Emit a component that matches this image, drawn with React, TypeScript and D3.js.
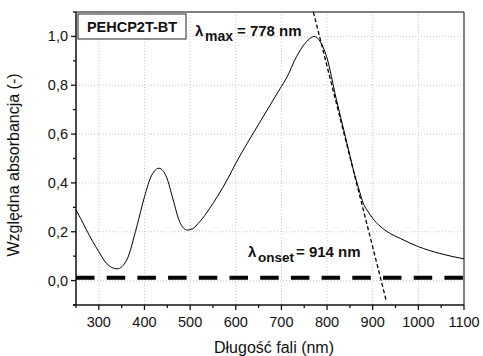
import React from "react";
import * as d3 from "d3";

const wavelength = [250, 260, 273, 300, 317, 340, 361, 383, 400, 416, 432, 448, 463, 477, 494, 505, 521, 543, 560, 583, 600, 650, 700, 711, 733, 752, 765, 772, 785, 799, 820, 840, 861, 872, 879, 890, 900, 916, 938, 960, 1000, 1047, 1100];
const absorbance = [0.289, 0.255, 0.207, 0.118, 0.07, 0.048, 0.084, 0.22, 0.343, 0.432, 0.46, 0.425, 0.33, 0.241, 0.207, 0.212, 0.241, 0.296, 0.345, 0.419, 0.48, 0.64, 0.795, 0.829, 0.917, 0.972, 0.995, 1.0, 0.979, 0.917, 0.745, 0.59, 0.43, 0.36, 0.318, 0.282, 0.255, 0.223, 0.193, 0.173, 0.139, 0.111, 0.089];

const tangentX = [770, 930];
const tangentY = [1.1, -0.085];

const baselineX = [250, 1100];
const baselineY = [0.012, 0.012];

const xTicks = [300, 400, 500, 600, 700, 800, 900, 1000, 1100];
const xMinorTicks = [250, 350, 450, 550, 650, 750, 850, 950, 1050];
const yTicks = [0.0, 0.2, 0.4, 0.6, 0.8, 1.0];
const yMinorTicks = [-0.1, 0.1, 0.3, 0.5, 0.7, 0.9, 1.1];

const sampleName = "PEHCP2T-BT";
const lambdaMax = "778";
const lambdaOnset = "914";
const xTitle = "Długość fali (nm)";
const yTitle = "Względna absorbancja (-)";

const FONT = "'Liberation Sans', Arial, Helvetica, sans-serif";

export default function App() {
  const W = 483, H = 356;
  const left = 76, right = 464, top = 12, bottom = 305;
  const x = d3.scaleLinear().domain([250, 1100]).range([left, right]);
  const y = d3.scaleLinear().domain([-0.1, 1.1]).range([bottom, top]);

  const pts: [number, number][] = wavelength.map((w, i) => [w, absorbance[i]]);
  const line = d3.line<[number, number]>().x(d => x(d[0])).y(d => y(d[1])).curve(d3.curveMonotoneX);
  const straight = d3.line<[number, number]>().x(d => x(d[0])).y(d => y(d[1]));
  const tangentPts: [number, number][] = tangentX.map((v, i) => [v, tangentY[i]]);
  const basePts: [number, number][] = baselineX.map((v, i) => [v, baselineY[i]]);
  const fmt = (v: number) => d3.format(".1f")(v).replace(".", ",");

  return (
    <svg width={W} height={H} style={{ position: "absolute", left: 0, top: 0, background: "#fff" }} fontFamily={FONT}>
      <rect x={0} y={0} width={W} height={H} fill="#fff" />
      {/* grid */}
      {xTicks.filter(t => t < 1100).map(t => (
        <line key={"gx" + t} x1={x(t)} x2={x(t)} y1={top} y2={bottom} stroke="#c8c8c8" strokeWidth={1} strokeDasharray="1 2" />
      ))}
      {yTicks.map(t => (
        <line key={"gy" + t} x1={left} x2={right} y1={y(t)} y2={y(t)} stroke="#c8c8c8" strokeWidth={1} strokeDasharray="1 2" />
      ))}
      {/* frame */}
      <line x1={left} x2={right} y1={top} y2={top} stroke="#555" strokeWidth={1.5} />
      <line x1={right} x2={right} y1={top} y2={bottom} stroke="#555" strokeWidth={1.5} />
      <line x1={left - 3} x2={right} y1={bottom} y2={bottom} stroke="#111" strokeWidth={1.5} />
      <line x1={left} x2={left} y1={top} y2={bottom + 1} stroke="#111" strokeWidth={1.5} />
      {/* ticks */}
      {xTicks.map(t => (
        <line key={"tx" + t} x1={x(t)} x2={x(t)} y1={bottom} y2={bottom + 5} stroke="#111" strokeWidth={1.3} />
      ))}
      {xMinorTicks.map(t => (
        <line key={"mx" + t} x1={x(t)} x2={x(t)} y1={bottom} y2={bottom + 3} stroke="#111" strokeWidth={1.3} />
      ))}
      {yTicks.map(t => (
        <line key={"ty" + t} x1={left - 5} x2={left} y1={y(t)} y2={y(t)} stroke="#111" strokeWidth={1.3} />
      ))}
      {yMinorTicks.map(t => (
        <line key={"my" + t} x1={left - 3} x2={left} y1={y(t)} y2={y(t)} stroke="#111" strokeWidth={1.3} />
      ))}
      {/* tick labels */}
      {xTicks.map(t => (
        <text key={"lx" + t} x={x(t)} y={bottom + 22} textAnchor="middle" fontSize={14.5} fill="#111">{t}</text>
      ))}
      {yTicks.map(t => (
        <text key={"ly" + t} x={left - 8} y={y(t) + 5} textAnchor="end" fontSize={14.5} fill="#111">{fmt(t)}</text>
      ))}
      {/* axis titles */}
      <text x={274} y={353} textAnchor="middle" fontSize={16} fill="#111">{xTitle}</text>
      <text transform={`translate(19, ${165}) rotate(-90)`} textAnchor="middle" fontSize={16} fill="#111">{yTitle}</text>
      {/* data */}
      <path d={straight(basePts) || ""} fill="none" stroke="#000" strokeWidth={4} strokeDasharray="18.5 12.2" />
      <path d={line(pts) || ""} fill="none" stroke="#000" strokeWidth={1} />
      <path d={straight(tangentPts) || ""} fill="none" stroke="#000" strokeWidth={1.3} strokeDasharray="4 2.5" />
      {/* sample box */}
      <rect x={78} y={14} width={108} height={25} fill="#fff" stroke="#222" strokeWidth={1} />
      <text x={132} y={32} textAnchor="middle" fontSize={14.5} fontWeight="bold" fill="#111">{sampleName}</text>
      {/* lambda max */}
      <text y={36} fontSize={15} fontWeight="bold" fill="#111">
        <tspan x={195}>λ</tspan>
        <tspan x={205} y={41} fontSize={14}>max</tspan>
        <tspan x={237} y={36}>{"= " + lambdaMax + " nm"}</tspan>
      </text>
      {/* lambda onset */}
      <text y={257} fontSize={15} fontWeight="bold" fill="#111">
        <tspan x={248}>λ</tspan>
        <tspan x={258} y={262} fontSize={13.5}>onset</tspan>
        <tspan x={296} y={257}>{"= " + lambdaOnset + " nm"}</tspan>
      </text>
    </svg>
  );
}
